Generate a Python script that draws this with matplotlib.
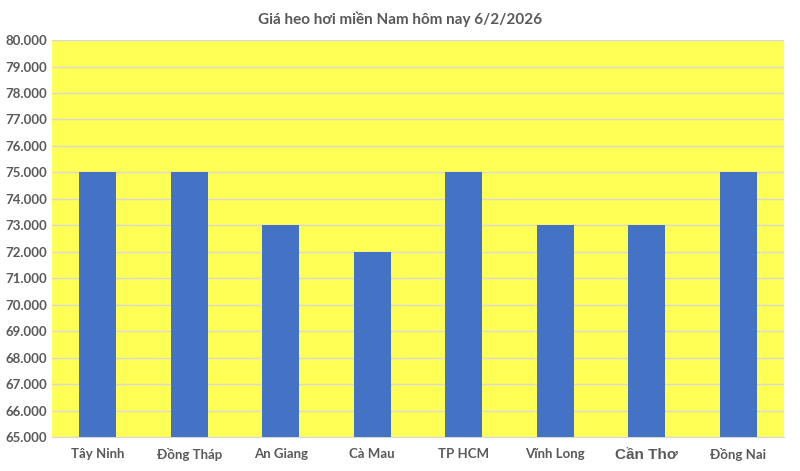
import matplotlib
matplotlib.use('Agg')
import matplotlib.pyplot as plt
from matplotlib.ticker import FuncFormatter, MultipleLocator

plt.rcParams['font.family'] = ['Lato', 'DejaVu Sans']

provinces = ['Tây Ninh', 'Đồng Tháp', 'An Giang', 'Cà Mau',
             'TP HCM', 'Vĩnh Long', 'Cần Thơ', 'Đồng Nai']
prices = [75000, 75000, 73000, 72000, 75000, 73000, 73000, 75000]

fig = plt.figure(figsize=(8, 4.71), dpi=100)
ax = fig.add_axes([0.065, 0.072, 0.915, 0.843])

ax.set_facecolor('#FFFF55')
ax.bar(range(len(provinces)), prices, width=0.4, color='#4472C4', zorder=3)

ax.set_ylim(65000, 80000)
ax.set_xlim(-0.5, len(provinces) - 0.5)
ax.yaxis.set_major_locator(MultipleLocator(1000))
ax.yaxis.set_major_formatter(FuncFormatter(lambda v, p: f'{v:,.0f}'.replace(',', '.')))
ax.grid(axis='y', color='#D9D9D9', lw=1, zorder=1)

ax.set_xticks(range(len(provinces)))
ax.set_xticklabels(provinces)
ax.tick_params(axis='both', length=0, colors='#595959', labelsize=9.5)
ax.tick_params(axis='x', pad=8)
for lab in ax.get_xticklabels() + ax.get_yticklabels():
    lab.set_fontweight('bold')
# in the original this one label is set in a bigger, different font
odd = ax.get_xticklabels()[provinces.index('Cần Thơ')]
odd.set_fontfamily(['Liberation Sans', 'DejaVu Sans'])
odd.set_fontsize(11)

for side in ('top', 'right', 'left'):
    ax.spines[side].set_visible(False)
ax.spines['bottom'].set_color('#D9D9D9')

fig.suptitle('Giá heo hơi miền Nam hôm nay 6/2/2026', y=0.975,
             fontsize=11, fontweight='bold', color='#595959')

fig.savefig('out.png', dpi=100)
